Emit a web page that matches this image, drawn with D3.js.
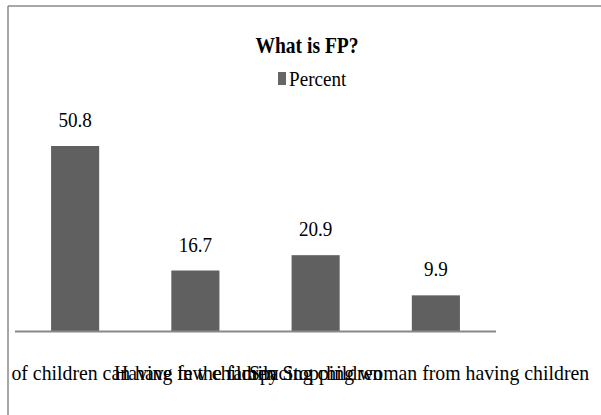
<!DOCTYPE html>
<html>
<head>
<meta charset="utf-8">
<script src="https://cdn.jsdelivr.net/npm/d3@7"></script>
<style>
  html, body { margin: 0; padding: 0; background: #fff; }
  svg { display: block; }
  text { font-family: "Liberation Serif", "Times New Roman", serif; fill: #000; }
</style>
</head>
<body>
<script>
// ---- data ----
const categories = [
  "Limiting number of children can have in the family",
  "Having few children",
  "Spacing children",
  "Stopping woman from having children"
];
const percentValues = [50.8, 16.7, 20.9, 9.9];
const valueLabels = ["50.8", "16.7", "20.9", "9.9"];
const seriesName = "Percent";
const chartTitle = "What is FP?";
const yDomain = [0, 60];

// ---- layout ----
const W = 601, H = 415;
const svg = d3.select("body").append("svg").attr("width", W).attr("height", H);
svg.append("rect").attr("width", W).attr("height", H).attr("fill", "#fff");

// frame (top + left edge of the figure box)
svg.append("line").attr("x1", 8).attr("x2", W).attr("y1", 6).attr("y2", 6)
  .attr("stroke", "#8a8a8a").attr("stroke-width", 1.5);
svg.append("line").attr("x1", 8).attr("x2", 8).attr("y1", 6).attr("y2", H)
  .attr("stroke", "#8a8a8a").attr("stroke-width", 1.5);

const x = d3.scaleBand().domain(categories).range([15, 496])
  .paddingInner(0.6).paddingOuter(0.3);
const y = d3.scaleLinear().domain(yDomain).range([331.5, 112.4]);

const SX = 0.87;

// title
svg.append("text")
  .attr("transform", `translate(307,52.5) scale(0.85,1)`)
  .attr("text-anchor", "middle")
  .attr("font-size", 23).attr("font-weight", "bold")
  .text(chartTitle);

// legend
const lg = svg.append("g").attr("transform", "translate(278,72)");
lg.append("rect").attr("x", 0).attr("y", 0).attr("width", 8).attr("height", 13).attr("fill", "#666");
lg.append("text").attr("transform", `translate(11,14) scale(${SX},1)`)
  .attr("font-size", 22).text(seriesName);

// bars
svg.append("g").selectAll("rect").data(percentValues).join("rect")
  .attr("x", (d, i) => x(categories[i]))
  .attr("y", d => y(d))
  .attr("width", x.bandwidth())
  .attr("height", d => y(0) - y(d))
  .attr("fill", "#606060");

// value labels
svg.append("g").selectAll("text").data(percentValues).join("text")
  .attr("transform", (d, i) => `translate(${x(categories[i]) + x.bandwidth() / 2},${y(d) - 19}) scale(${SX},1)`)
  .attr("text-anchor", "middle")
  .attr("font-size", 22)
  .text((d, i) => valueLabels[i]);

// x axis baseline
svg.append("line").attr("x1", x.range()[0]).attr("x2", x.range()[1])
  .attr("y1", y(0)).attr("y2", y(0))
  .attr("stroke", "#888").attr("stroke-width", 2);

// category labels (overlapping as in the original, clipped at frame)
svg.append("clipPath").attr("id", "clipL").append("rect")
  .attr("x", 9).attr("y", 0).attr("width", W).attr("height", H);
svg.append("g").attr("clip-path", "url(#clipL)")
  .selectAll("text").data(categories).join("text")
  .attr("transform", d => `translate(${x(d) + x.bandwidth() / 2},380) scale(0.9,1)`)
  .attr("text-anchor", "middle")
  .attr("font-size", 22)
  .text(d => d);
</script>
</body>
</html>
